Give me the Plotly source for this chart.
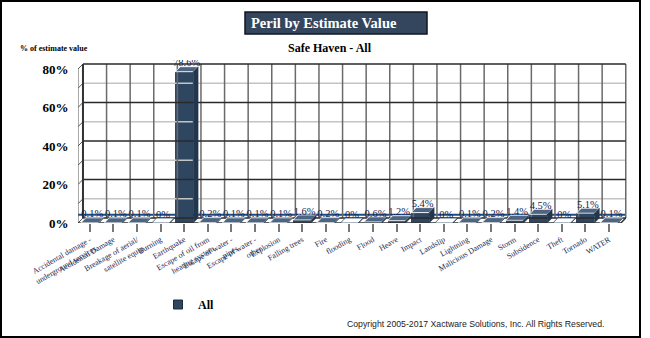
import plotly.graph_objects as go

# ---- data ----
categories = [
    "Accidental damage -<br>underground services",
    "Accidental Damage",
    "Breakage of aerial/<br>satellite equip",
    "Burning",
    "Earthquake",
    "Escape of oil from<br>heating system",
    "Escape of water -<br>pipes",
    "Escape of water -<br>other",
    "Explosion",
    "Falling trees",
    "Fire",
    "flooding",
    "Flood",
    "Heave",
    "Impact",
    "Landslip",
    "Lightning",
    "Malicious Damage",
    "Storm",
    "Subsidence",
    "Theft",
    "Tornado",
    "WATER",
]
values = [0.1, 0.1, 0.1, 0, 78.6, 0.2, 0.1, 0.1, 0.1, 1.6, 0.2, 0,
          0.6, 1.2, 5.4, 0, 0.1, 0.2, 1.4, 4.5, 0, 5.1, 0.1]
y_ticks = [0, 20, 40, 60, 80]
y_tick_labels = ["0%", "20%", "40%", "60%", "80%"]
series_name = "All"

# ---- styling / pseudo-3D geometry ----
SERIF = "Liberation Serif, Times New Roman, serif"
SANS = "Liberation Sans, Arial, sans-serif"
FRONT = "#2f4660"
TOP = "#4b6583"
SIDE = "#22364d"
DEPTH_X = 0.21      # depth offset in category units
DEPTH_Y = 2.6       # depth offset in value units
BAR_W = 0.76
N = len(categories)
Y_MAX_WALL = 80

# plot-area placement in pixels
PL, PT, PW, PH = 78, 60, 550, 163
FIG_W, FIG_H = 650, 338


def paper_x(px):
    return (px - PL) / PW


def paper_y(py):
    return (PT + PH - py) / PH


fig = go.Figure()


def add_lines(xs, ys, color, width):
    fig.add_trace(go.Scatter(x=xs, y=ys, mode="lines", hoverinfo="skip",
                             showlegend=False,
                             line=dict(color=color, width=width)))


left = -0.5
right = N - 0.5

# back wall: horizontal grid lines (light every 10, dark every 20)
minor_x, minor_y, major_x, major_y = [], [], [], []
for v in range(0, Y_MAX_WALL + 1, 10):
    xs = [left + DEPTH_X, right + DEPTH_X, None]
    ys = [v + DEPTH_Y, v + DEPTH_Y, None]
    if v % 20 == 0:
        major_x += xs
        major_y += ys
    else:
        minor_x += xs
        minor_y += ys
add_lines(minor_x, minor_y, "#c4c4c4", 1.5)

# back wall: vertical lines at category boundaries
vx, vy = [], []
for i in range(N + 1):
    xb = i - 0.5 + DEPTH_X
    vx += [xb, xb, None]
    vy += [DEPTH_Y, Y_MAX_WALL + DEPTH_Y, None]
add_lines(vx, vy, "#6a6a6a", 1.5)
add_lines(major_x, major_y, "#2a2a2a", 1.5)

# left wall: front edge plus depth ticks
lx, ly = [left, left, None], [0, Y_MAX_WALL, None]
for v in range(0, Y_MAX_WALL + 1, 10):
    lx += [left, left + DEPTH_X, None]
    ly += [v, v + DEPTH_Y, None]
add_lines(lx, ly, "#555555", 1)
add_lines([left + DEPTH_X, left + DEPTH_X], [DEPTH_Y, Y_MAX_WALL + DEPTH_Y],
          "#333333", 2)

# floor edges
add_lines([left, right, right + DEPTH_X], [0, 0, DEPTH_Y], "#333333", 1.5)

# bar front faces
fig.add_trace(go.Bar(
    x=list(range(N)), y=values, width=BAR_W, name=series_name,
    marker=dict(color=FRONT, line=dict(width=0)),
    hoverinfo="skip", showlegend=False,
))

# bar top and side faces
for i, v in enumerate(values):
    x0, x1 = i - BAR_W / 2, i + BAR_W / 2
    top_color = "#ffffff" if v == 0 else TOP
    edge_color = "#2f4660" if v == 0 else "#ffffff"
    fig.add_trace(go.Scatter(
        x=[x0, x1, x1 + DEPTH_X, x0 + DEPTH_X, x0],
        y=[v, v, v + DEPTH_Y, v + DEPTH_Y, v],
        mode="lines", fill="toself", fillcolor=top_color,
        line=dict(color=edge_color, width=0.8),
        hoverinfo="skip", showlegend=False,
    ))
    fig.add_trace(go.Scatter(
        x=[x1, x1, x1 + DEPTH_X, x1 + DEPTH_X, x1],
        y=[0, v, v + DEPTH_Y, DEPTH_Y, 0],
        mode="lines", fill="toself", fillcolor=SIDE,
        line=dict(color=SIDE, width=0.5),
        hoverinfo="skip", showlegend=False,
    ))

# value labels
fig.add_trace(go.Scatter(
    x=[i + DEPTH_X / 2 for i in range(N)],
    y=[v + DEPTH_Y - 1.2 for v in values],
    mode="text",
    text=["0%" if v == 0 else f"{v:.1f}%" for v in values],
    textposition="top center",
    textfont=dict(family=SERIF, size=10.5, color="#17254a"),
    hoverinfo="skip", showlegend=False,
))

# legend entry for the series (square swatch)
fig.add_trace(go.Scatter(
    x=[None], y=[None], mode="markers", name=series_name,
    marker=dict(symbol="square", size=9, color=FRONT,
                line=dict(color="#1a2a3d", width=1)),
    showlegend=True, hoverinfo="skip",
))

mean_value = sum(values) / N

shapes = [
    # average line, kept behind the bars
    dict(type="line", xref="x", yref="y", layer="below",
         x0=left, x1=right + DEPTH_X, y0=mean_value, y1=mean_value,
         line=dict(color="#1f4a86", width=2)),
    # title box
    dict(type="rect", xref="paper", yref="paper", layer="below",
         x0=paper_x(245), x1=paper_x(427), y0=paper_y(34), y1=paper_y(12),
         fillcolor="#33465d", line=dict(color="#10161f", width=1.5)),
    # outer frame
    dict(type="rect", xref="paper", yref="paper",
         x0=paper_x(1), x1=paper_x(640), y0=paper_y(337), y1=paper_y(1),
         line=dict(color="#000000", width=2)),
]

annotations = [
    dict(text="<b>Peril by Estimate Value</b>", xref="paper", yref="paper",
         x=paper_x(324), y=paper_y(23), xanchor="center", yanchor="middle",
         showarrow=False,
         font=dict(family=SERIF, size=14.5, color="#ffffff")),
    dict(text="<b>Safe Haven - All</b>", xref="paper", yref="paper",
         x=paper_x(330), y=paper_y(48), xanchor="center", yanchor="middle",
         showarrow=False,
         font=dict(family=SERIF, size=12, color="#000000")),
    dict(text="<b>% of estimate value</b>", xref="paper", yref="paper",
         x=paper_x(18), y=paper_y(48), xanchor="left", yanchor="middle",
         showarrow=False,
         font=dict(family=SERIF, size=8, color="#000000")),
    dict(text="Copyright 2005-2017 Xactware Solutions, Inc. All Rights Reserved.",
         xref="paper", yref="paper", x=paper_x(345), y=paper_y(324),
         xanchor="left", yanchor="middle", showarrow=False,
         font=dict(family=SANS, size=8.7, color="#222222")),
]

fig.update_layout(
    width=FIG_W, height=FIG_H,
    margin=dict(l=PL, r=FIG_W - PL - PW, t=PT, b=FIG_H - PT - PH),
    paper_bgcolor="#ffffff", plot_bgcolor="#ffffff",
    shapes=shapes, annotations=annotations,
    showlegend=True,
    legend=dict(x=paper_x(158), y=paper_y(290), xanchor="left", yanchor="top",
                orientation="h", bgcolor="rgba(0,0,0,0)",
                font=dict(family=SERIF, size=12, color="#000000", weight="bold")),
    xaxis=dict(
        range=[left, left + PW / 23.6],
        tickmode="array", tickvals=list(range(N)), ticktext=categories,
        tickangle=-30, ticks="outside", ticklen=8, tickwidth=2,
        tickcolor="#777777", showgrid=False, zeroline=False, showline=False,
        tickfont=dict(family=SERIF, size=8, color="#1c2b55"),
        fixedrange=True,
    ),
    yaxis=dict(
        range=[0, PH / 1.925],
        tickmode="array", tickvals=y_ticks,
        ticktext=[f"<b>{t}</b>" for t in y_tick_labels],
        ticks="outside", ticklen=6, tickcolor="rgba(0,0,0,0)",
        showgrid=False, zeroline=False, showline=False,
        tickfont=dict(family=SERIF, size=13, color="#000000"),
        fixedrange=True,
    ),
    bargap=0,
)

fig.write_html("out.html", config={"displayModeBar": False})
